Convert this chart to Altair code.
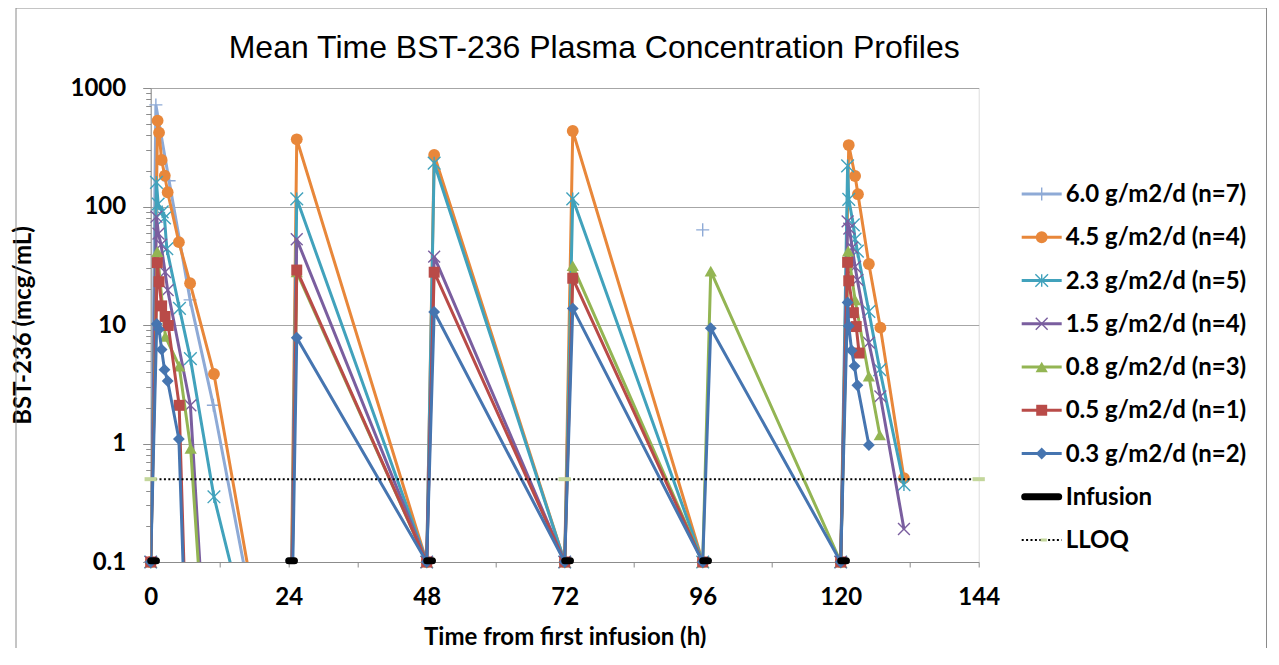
import json
import altair as alt
import pandas as pd

# ---------------- data ----------------
SERIES = ["6.0 g/m2/d (n=7)", "4.5 g/m2/d (n=4)", "2.3 g/m2/d (n=5)",
          "1.5 g/m2/d (n=4)", "0.8 g/m2/d (n=3)", "0.5 g/m2/d (n=1)",
          "0.3 g/m2/d (n=2)"]
COLORS = ["#8EAAD6", "#E8873A", "#41A2BC", "#7A5E9F", "#93B553", "#B94B48", "#4675B0"]

# None marks a gap (Excel blank cell)
T_60 = [0, 0.9, 3.2, 6.85, 10.9, 24, None, 96.0]
C_60 = [0.1, 720, 165, 16.3, 2.1, 0.001, None, 63.5]

T_45 = [0, 1.2, 1.45, 1.9, 2.45, 2.95, 4.9, 6.85, 11.0, 24, 25.4, 48, 49.3, 72, 73.4, 96,
        None, 120, 121.4, 122.5, 123.0, 124.9, 126.9, 131.0]
C_45 = [0.1, 530, 420, 247, 182, 132, 50, 22.5, 3.86, 0.001, 369, 0.1, 272, 0.1, 434, 0.1,
        None, 0.1, 330, 181, 127, 32.7, 9.5, 0.51]

T_23 = [0, 1.0, 1.3, 2.0, 2.4, 2.8, 5.0, 6.9, 11.0, 24, 25.4, 48, 49.3, 72, 73.4, 96,
        None, 120, 121.2, 121.4, 122.2, 122.5, 122.9, 124.9, 126.8, 131.0]
C_23 = [0.1, 160, 105, 90, 80, 44, 13.8, 5.2, 0.355, 0.001, 116, 0.1, 232, 0.1, 116, 0.1,
        None, 0.1, 220, 115, 70, 53, 42, 13, 4.2, 0.45]

T_15 = [0, 1.0, 1.35, 1.8, 2.5, 2.95, 6.9, 11, 24, 25.4, 48, 49.3, 72,
        None, 120, 121.2, 121.5, 122.0, 122.5, 122.9, 124.9, 126.9, 131.0]
C_15 = [0.1, 82, 59, 47.6, 28, 19.7, 2.1, 0.001, 0.001, 52.9, 0.1, 37.7, 0.1,
        None, 0.1, 75, 65, 45, 31, 24, 7.1, 2.5, 0.19]

T_08 = [0, 1.15, 2.55, 4.95, 6.95, 11, 24, 25.4, 48,
        None, 72, 73.4, 96, 97.4, 120, 121.3, 122.5, 124.9, 126.8]
C_08 = [0.1, 41.6, 8.0, 4.5, 0.91, 0.001, 0.001, 28, 0.1,
        None, 0.1, 31.6, 0.1, 28.5, 0.1, 42, 16.3, 3.7, 1.18]

T_05 = [0, 1.15, 1.45, 1.9, 2.5, 3.05, 4.95, 7, 24, 25.4, 48, 49.3, 72, 73.4, 96,
        None, 120, 121.2, 121.4, 122.2, 122.7, 123.2]
C_05 = [0.1, 33.6, 23.2, 14.5, 11.8, 9.9, 2.1, 0.001, 0.001, 29.1, 0.1, 27.9, 0.1, 24.8, 0.1,
        None, 0.1, 33.8, 23.6, 12.7, 9.7, 5.8]

T_03 = [0, 1.05, 1.45, 1.9, 2.4, 2.95, 4.9, 7, 24, 25.4, 48, 49.3, 72, 73.4, 96, 97.4, 120,
        121.2, 121.4, 121.9, 122.4, 122.9, 124.9]
C_03 = [0.1, 10.2, 9.2, 6.2, 4.2, 3.37, 1.09, 0.001, 0.001, 7.8, 0.1, 12.9, 0.1, 13.8, 0.1, 9.4, 0.1,
        15.5, 9.8, 6.1, 4.5, 3.1, 0.97]

SERIES_T = [T_60, T_45, T_23, T_15, T_08, T_05, T_03]
SERIES_C = [C_60, C_45, C_23, C_15, C_08, C_05, C_03]

INF_START = [0, 24, 48, 72, 96, 120]
INF_END = [1, 25, 49, 73, 97, 121]
INF_LEVEL = 0.1

LLOQ = 0.5
LLOQ_T = [0, 72, 144]

Y_MAJOR = [0.1, 1, 10, 100, 1000]
Y_MINOR = [0.2, 0.3, 0.4, 0.5, 0.6, 0.7, 0.8, 0.9,
           2, 3, 4, 5, 6, 7, 8, 9,
           20, 30, 40, 50, 60, 70, 80, 90,
           200, 300, 400, 500, 600, 700, 800, 900]
X_TICKS = [0, 12, 24, 36, 48, 60, 72, 84, 96, 108, 120, 132, 144]
X_LABELS = [0, 24, 48, 72, 96, 120, 144]

LEG_LABELS = SERIES + ["Infusion", "LLOQ"]

TITLE = "Mean Time BST-236 Plasma Concentration Profiles"
X_TITLE = "Time from first infusion (h)"
Y_TITLE = "BST-236 (mcg/mL)"

# ---------------- tables ----------------
rows = []
for name, ts, cs in zip(SERIES, SERIES_T, SERIES_C):
    seg = 0
    for t, c in zip(ts, cs):
        if t is None:
            seg += 1
            continue
        rows.append({"series": name, "t": t, "v": c, "seg": seg})
df = pd.DataFrame(rows)

inf_df = pd.DataFrame({"t": INF_START, "t2": INF_END, "v": [INF_LEVEL] * len(INF_START)})
lloq_line_df = pd.DataFrame({"t": [min(LLOQ_T)], "t2": [max(LLOQ_T)], "v": [LLOQ]})
lloq_pts_df = pd.DataFrame({"t": LLOQ_T, "v": [LLOQ] * len(LLOQ_T)})
leg_df = pd.DataFrame({"label": LEG_LABELS})

# ---------------- styling ----------------
FONT = "Lato"
FS = 24
LW = 3
PLUS = "M-1,0L1,0M0,-1L0,1"
ASTER = "M-1,-1L1,1M-1,1L1,-1M0,-1L0,1"
XMARK = "M-1,-1L1,1M-1,1L1,-1"
MARKERS = [
    dict(shape=PLUS, size=170, filled=False, strokeWidth=1.4),
    dict(shape="circle", size=140, filled=True),
    dict(shape=ASTER, size=160, filled=False, strokeWidth=1.4),
    dict(shape=XMARK, size=140, filled=False, strokeWidth=1.4),
    dict(shape="triangle-up", size=150, filled=True),
    dict(shape="square", size=120, filled=True),
    dict(shape="diamond", size=140, filled=True),
]

major_js = json.dumps(Y_MAJOR)
is_major = f"indexof({major_js}, datum.value) >= 0"
xlab_js = json.dumps(X_LABELS)

yaxis = alt.Axis(
    title=Y_TITLE, values=Y_MAJOR + Y_MINOR,
    labelExpr=f"{is_major} ? format(datum.value, '~g') : ''",
    labelOverlap=False, labelFlush=False, labelFont=FONT, labelFontSize=FS,
    labelFontWeight="bold", labelColor="black", labelPadding=17,
    tickSize={"condition": {"test": is_major, "value": 8}, "value": 5},
    tickColor="#8C8C8C", domainColor="#8C8C8C",
    grid=True, gridColor="#A6A6A6", gridWidth=1,
    gridOpacity={"condition": {"test": is_major, "value": 1}, "value": 0},
    titleFont=FONT, titleFontSize=FS, titleFontWeight="bold", titleColor="black",
    titlePadding=35,
)
xaxis = alt.Axis(
    title=X_TITLE, values=X_TICKS,
    labelExpr=f"indexof({xlab_js}, datum.value) >= 0 ? datum.label : ''",
    labelOverlap=False, labelFlush=False, labelFont=FONT, labelFontSize=FS,
    labelFontWeight="bold", labelColor="black", labelPadding=18, tickSize=5,
    tickColor="#8C8C8C", domainColor="#8C8C8C", grid=False,
    titleFont=FONT, titleFontSize=FS, titleFontWeight="bold", titleColor="black",
    titlePadding=16,
)
xscale = alt.Scale(domain=[0, 144], nice=False, zero=False)
yscale = alt.Scale(type="log", domain=[0.1, 1000], nice=False)
X = alt.X("t:Q", scale=xscale, axis=xaxis)
Y = alt.Y("v:Q", scale=yscale, axis=yaxis)

# ---------------- main plot ----------------
layers = []
for name, color, mk in zip(SERIES, COLORS, MARKERS):
    base = alt.Chart(df).transform_filter(alt.datum.series == name)
    layers.append(base.mark_line(color=color, strokeWidth=LW, clip=True)
                  .encode(x=X, y=Y, detail="seg:N"))
    layers.append(base.transform_filter("datum.v >= 0.1")
                  .mark_point(color=color, opacity=1, clip=False, **mk)
                  .encode(x=X, y=Y))

lloq_line = alt.Chart(lloq_line_df).mark_rule(
    color="black", strokeWidth=2, strokeDash=[2, 2.4]).encode(x=X, x2="t2:Q", y=Y)
lloq_pts = alt.Chart(lloq_pts_df).mark_point(
    shape="stroke", size=150, strokeWidth=4, color="#C3D69B", opacity=1).encode(x=X, y=Y)
infusion = alt.Chart(inf_df).mark_rule(
    color="black", strokeWidth=7, strokeCap="round", yOffset=-1.2).encode(x=X, x2="t2:Q", y=Y)

main = alt.layer(*layers, lloq_line, lloq_pts, infusion)

# ---------------- legend (built from the label list) ----------------
LY = alt.Y("label:N", scale=alt.Scale(type="point", domain=LEG_LABELS, range=[106, 452], padding=0),
           axis=None)
leg_base = alt.Chart(leg_df)
leg_layers = []
leg_layers.append(
    leg_base.transform_filter(alt.FieldOneOfPredicate(field="label", oneOf=SERIES))
    .mark_rule(strokeWidth=LW)
    .encode(x=alt.value(871), x2=alt.value(911), y=LY,
            color=alt.Color("label:N", scale=alt.Scale(domain=SERIES, range=COLORS), legend=None))
)
for name, color, mk in zip(SERIES, COLORS, MARKERS):
    leg_layers.append(
        leg_base.transform_filter(alt.datum.label == name)
        .mark_point(color=color, opacity=1, **mk)
        .encode(x=alt.value(891), y=LY)
    )
leg_layers.append(
    leg_base.transform_filter(alt.datum.label == "Infusion")
    .mark_rule(color="black", strokeWidth=7, strokeCap="round")
    .encode(x=alt.value(874), x2=alt.value(908), y=LY)
)
leg_layers.append(
    leg_base.transform_filter(alt.datum.label == "LLOQ")
    .mark_rule(color="black", strokeWidth=2, strokeDash=[2, 2.4])
    .encode(x=alt.value(871), x2=alt.value(911), y=LY)
)
leg_layers.append(
    leg_base.transform_filter(alt.datum.label == "LLOQ")
    .mark_point(shape="stroke", size=40, strokeWidth=3, color="#C3D69B", opacity=1)
    .encode(x=alt.value(893), y=LY)
)
leg_layers.append(
    leg_base.mark_text(align="left", baseline="middle", font=FONT, fontSize=FS,
                       fontWeight="bold", color="black", dy=1)
    .encode(x=alt.value(915), y=LY, text="label:N")
)
# outer chart frame
frame_df = pd.DataFrame({"k": [0]})
frame = alt.layer(
    alt.Chart(frame_df).mark_rule(color="#8A8A8A", strokeWidth=1)
    .encode(x=alt.value(-134.7), x2=alt.value(1115.8), y=alt.value(-80)),
    alt.Chart(frame_df).mark_rule(color="#8A8A8A", strokeWidth=1)
    .encode(x=alt.value(-134.7), y=alt.value(-80), y2=alt.value(600)),
    alt.Chart(frame_df).mark_rule(color="#8A8A8A", strokeWidth=1)
    .encode(x=alt.value(1115.8), y=alt.value(-80), y2=alt.value(600)),
)
legend = alt.layer(*leg_layers, frame)

chart = (
    alt.layer(main, legend)
    .resolve_scale(y="independent", color="independent")
    .properties(
        width=828, height=474,
        padding={"left": 142.7, "top": 80, "right": 289.3, "bottom": 86},
        autosize=alt.AutoSizeParams(type="none"),
        title=alt.TitleParams(TITLE, font="Liberation Sans", fontSize=32, fontWeight="normal",
                              color="black", anchor="middle", frame="group", dx=29.5,
                              offset=0, baseline="alphabetic", dy=82.5),
    )
    .configure_view(stroke=None)
    .configure(background="white")
)

chart.save("out.html", embed_options={"renderer": "svg", "actions": False})
